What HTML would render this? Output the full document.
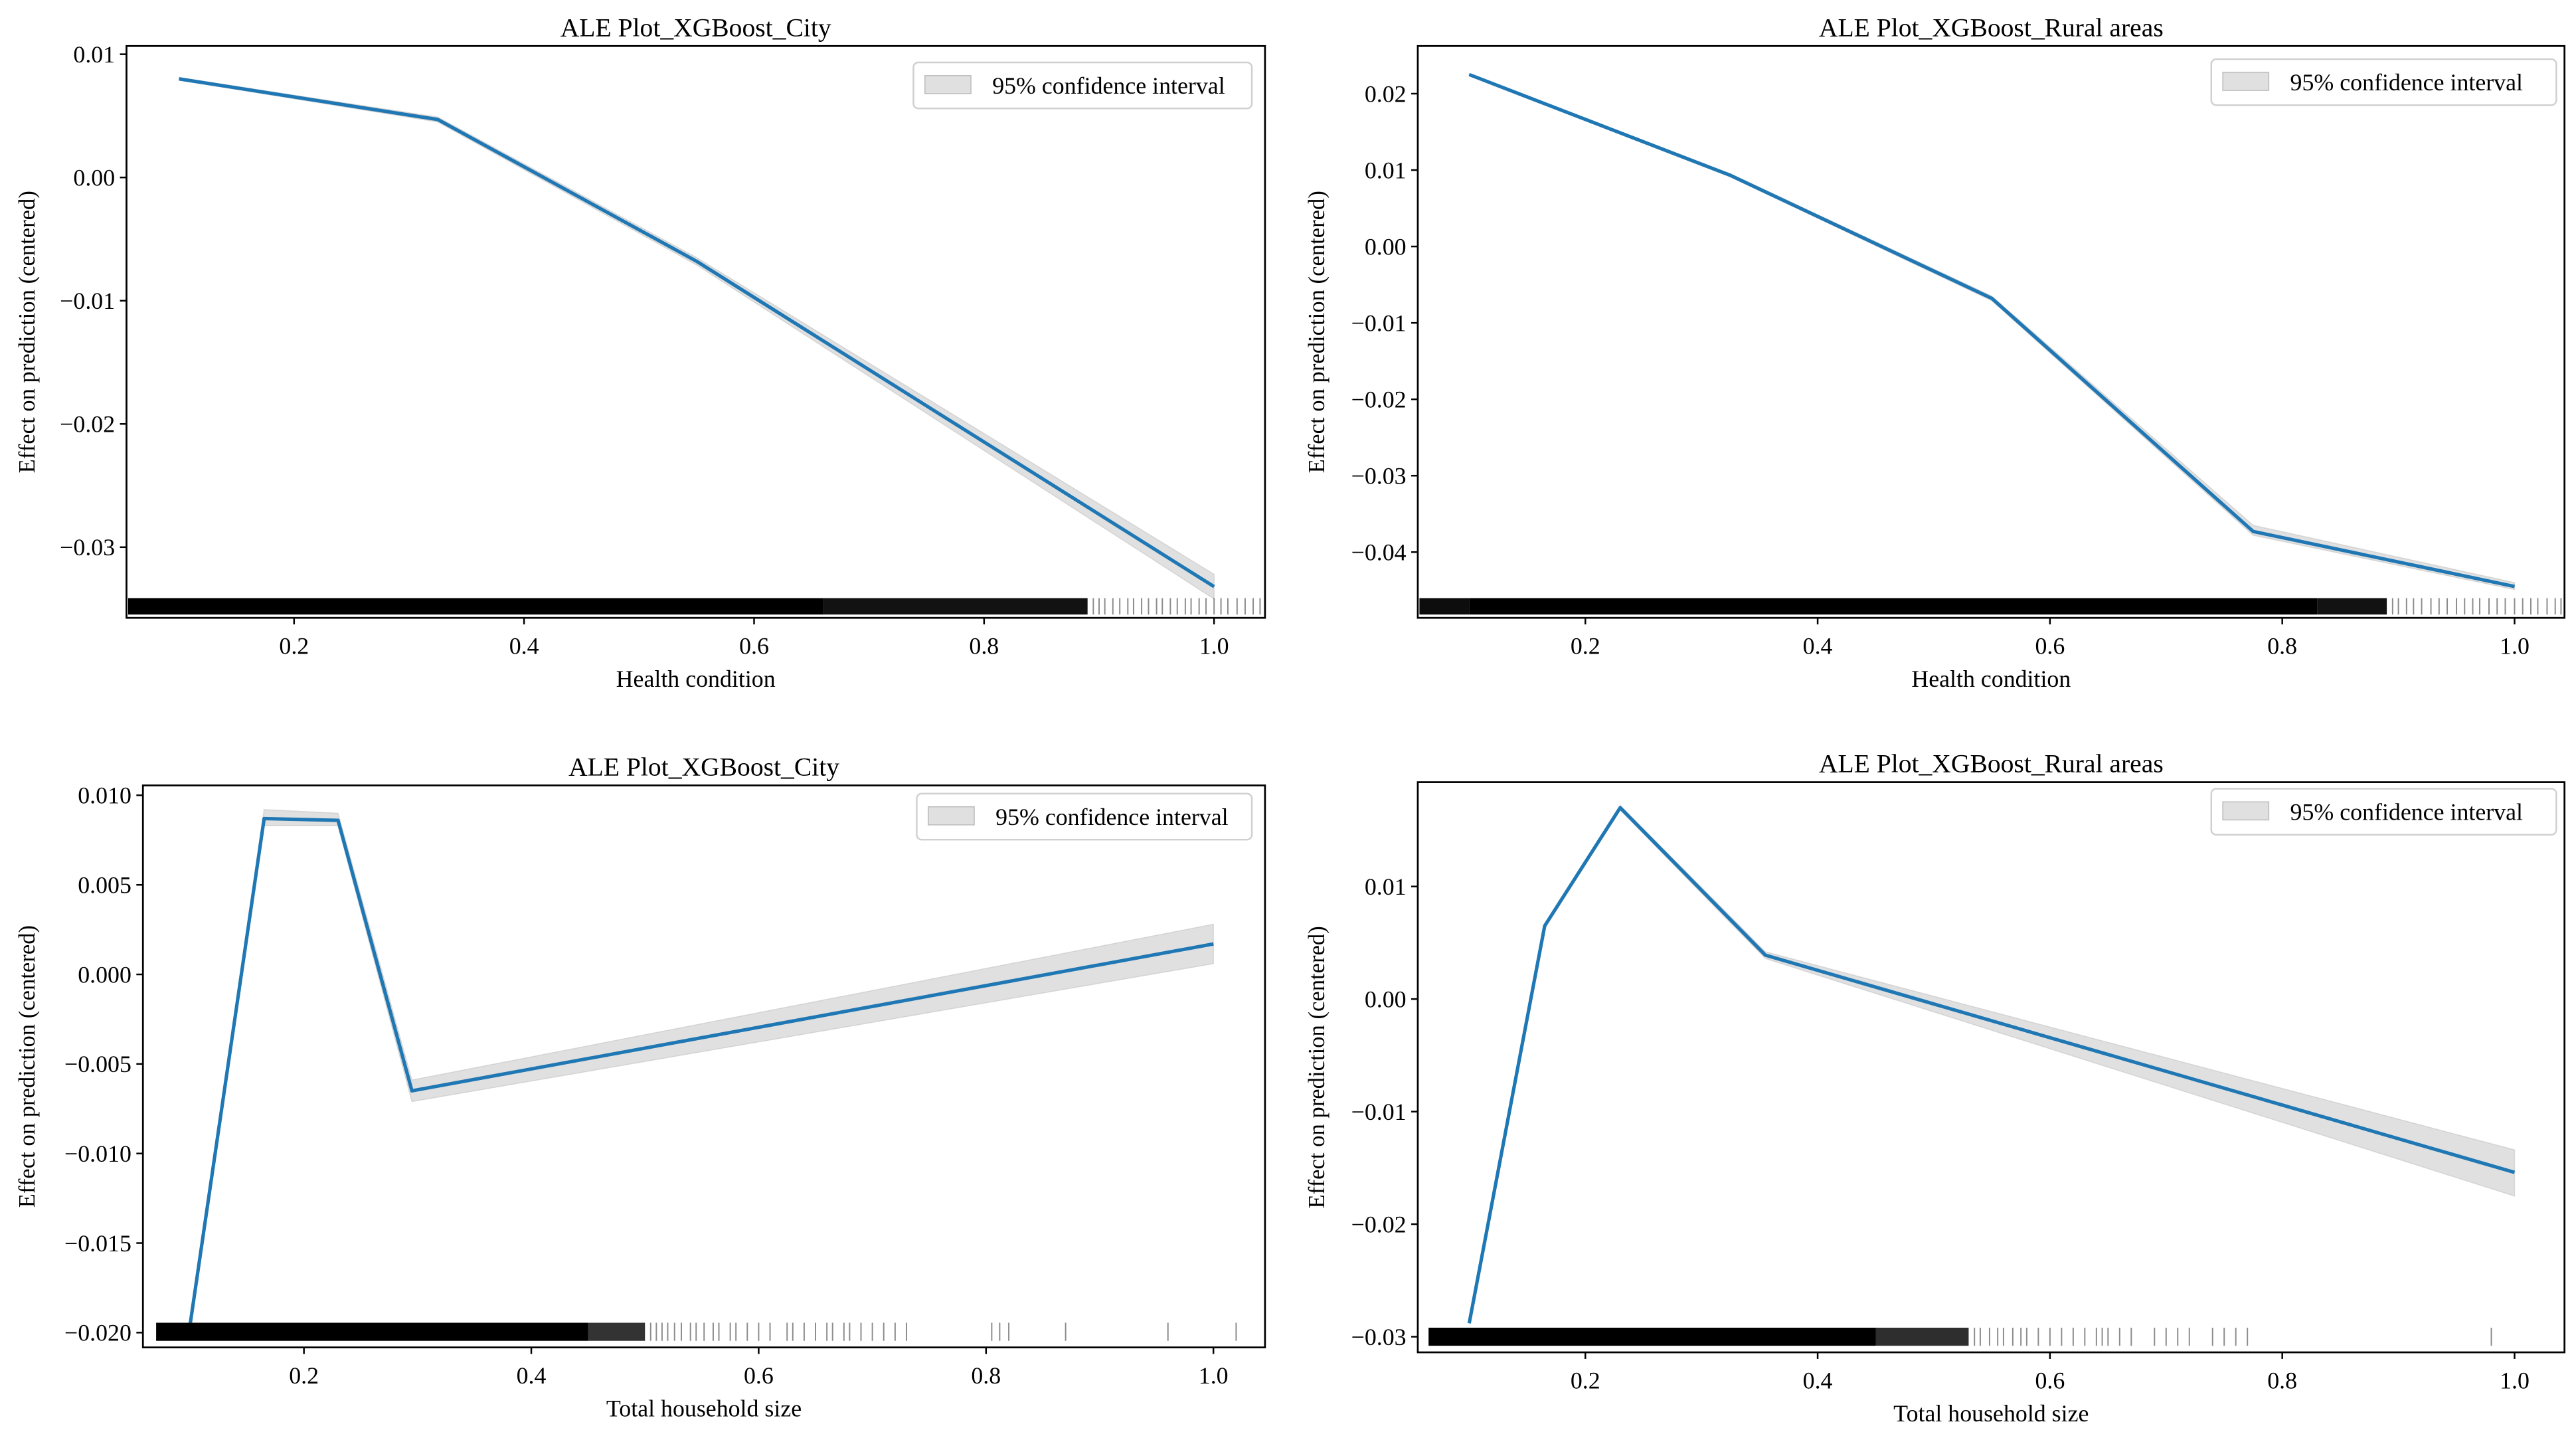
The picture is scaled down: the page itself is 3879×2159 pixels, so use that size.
<!DOCTYPE html>
<html><head><meta charset="utf-8"><style>
html,body{margin:0;padding:0;background:#fff;}
svg{display:block;}
text{font-family:"Liberation Serif",serif;fill:#000;}
</style></head><body>
<svg id="fig" width="3879" height="2159" viewBox="0 0 1568 872.7" preserveAspectRatio="none" xmlns="http://www.w3.org/2000/svg"></svg>
<script>
// Panel 1: City, Health condition
const p1X = [0.1, 0.325, 0.55, 1.0];
const p1Y = [0.008, 0.0047, -0.0068, -0.0332];
const p1Lo = [0.0079, 0.0045, -0.0071, -0.0342];
const p1Hi = [0.0081, 0.0049, -0.0065, -0.0322];
const p1YTicks = [0.01, 0.00, -0.01, -0.02, -0.03];
const p1YLabels = ["0.01", "0.00", "\u22120.01", "\u22120.02", "\u22120.03"];
const p1Rug = [[0.0, 0.66, 1], [0.66, 0.89, 0.93]];
const p1RugSparse = [0.895,0.9,0.905,0.912,0.918,0.925,0.93,0.937,0.943,0.95,0.955,0.962,0.968,0.975,0.98,0.987,0.993,1.0,1.006,1.012,1.02,1.027,1.034,1.04];
// Panel 2: Rural, Health condition
const p2X = [0.1, 0.325, 0.55, 0.775, 1.0];
const p2Y = [0.0225, 0.0093, -0.0068, -0.0373, -0.0445];
const p2Lo = [0.0224, 0.0091, -0.0071, -0.0378, -0.0449];
const p2Hi = [0.0226, 0.0095, -0.0065, -0.0365, -0.0440];
const p2YTicks = [0.02, 0.01, 0.00, -0.01, -0.02, -0.03, -0.04];
const p2YLabels = ["0.02", "0.01", "0.00", "\u22120.01", "\u22120.02", "\u22120.03", "\u22120.04"];
const p2Rug = [[0.0, 0.1, 0.95], [0.1, 0.83, 1], [0.83, 0.89, 0.93]];
const p2RugSparse = [0.895,0.9,0.907,0.913,0.92,0.928,0.935,0.942,0.95,0.957,0.964,0.97,0.978,0.985,0.992,1.0,1.007,1.014,1.02,1.028,1.035,1.04];
// Panel 3: City, Total household size
const p3X = [0.1, 0.165, 0.23, 0.295, 1.0];
const p3Y = [-0.0195, 0.0087, 0.0086, -0.0065, 0.0017];
const p3Lo = [-0.0196, 0.0083, 0.0083, -0.0071, 0.0006];
const p3Hi = [-0.0194, 0.0092, 0.0090, -0.0059, 0.0028];
const p3YTicks = [0.010, 0.005, 0.000, -0.005, -0.010, -0.015, -0.020];
const p3YLabels = ["0.010", "0.005", "0.000", "\u22120.005", "\u22120.010", "\u22120.015", "\u22120.020"];
const p3Rug = [[0.07, 0.45, 1], [0.45, 0.5, 0.8]];
const p3RugSparse = [0.505,0.51,0.515,0.52,0.526,0.532,0.54,0.545,0.552,0.56,0.565,0.575,0.58,0.59,0.6,0.61,0.625,0.63,0.64,0.65,0.66,0.665,0.675,0.68,0.69,0.7,0.71,0.72,0.73,0.805,0.812,0.82,0.87,0.96,1.02];
// Panel 4: Rural, Total household size
const p4X = [0.1, 0.165, 0.23, 0.355, 1.0];
const p4Y = [-0.0288, 0.0065, 0.0170, 0.0039, -0.0154];
const p4Lo = [-0.0289, 0.0063, 0.0168, 0.0036, -0.0175];
const p4Hi = [-0.0287, 0.0067, 0.0172, 0.0042, -0.0134];
const p4YTicks = [0.01, 0.00, -0.01, -0.02, -0.03];
const p4YLabels = ["0.01", "0.00", "\u22120.01", "\u22120.02", "\u22120.03"];
const p4Rug = [[0.065, 0.45, 1], [0.45, 0.53, 0.82]];
const p4RugSparse = [0.535,0.54,0.548,0.555,0.56,0.568,0.575,0.58,0.59,0.6,0.61,0.62,0.63,0.64,0.645,0.65,0.66,0.67,0.69,0.7,0.71,0.72,0.74,0.75,0.76,0.77,0.98];
const xTicks = [0.2, 0.4, 0.6, 0.8, 1.0];
const xTickLabels = ["0.2", "0.4", "0.6", "0.8", "1.0"];

const NS = "http://www.w3.org/2000/svg";
const svg = document.getElementById('fig');
function mk(tag, attrs, parent){const e=document.createElementNS(NS,tag);for(const k in attrs)e.setAttribute(k,attrs[k]);(parent||svg).appendChild(e);return e;}

function panel(cfg){
  const g = mk('g', {});
  
  
  const sx = v => cfg.x0px + (v - 0.2) * cfg.xScale;
  const sy = v => cfg.y0px - (v - cfg.y0v) * cfg.yScale;
  let d = '';
  cfg.xs.forEach((x,i)=>{ d += (i?'L':'M') + sx(x) + ',' + sy(cfg.hi[i]); });
  for (let i = cfg.xs.length-1; i>=0; i--) d += 'L' + sx(cfg.xs[i]) + ',' + sy(cfg.lo[i]);
  const band = mk('path', {d: d+'Z', fill:'#bbbbbb', 'fill-opacity':'0.45', stroke:'#bbbbbb','stroke-opacity':'0.5','stroke-width':'0.6'}, g);
  
  
  const pts = cfg.xs.map((x,i)=>sx(x)+','+sy(cfg.ys[i])).join(' ');
  const ln = mk('polyline', {points: pts, fill:'none', stroke:'#1f77b4', 'stroke-width':'2.1', 'stroke-linejoin':'round'}, g);
  
  
  const rg = mk('g', {}, g);
  
  
  cfg.rug.forEach(r=>{
    const a = Math.max(sx(r[0]), cfg.L+1), b = Math.min(sx(r[1]), cfg.R);
    mk('rect', {x:a, y:cfg.rugY, width:b-a, height:cfg.rugH, fill:'#000', 'fill-opacity':r[2]}, rg);
  });
  cfg.sparse.forEach(v=>{
    const xx = sx(v); if (xx<cfg.L||xx>cfg.R) return;
    mk('line', {x1:xx, x2:xx, y1:cfg.rugY, y2:cfg.rugY+cfg.rugH, stroke:'#000', 'stroke-opacity':'0.45', 'stroke-width':'0.8'}, rg);
  });
  const fr = mk('rect', {x:cfg.L, y:cfg.T, width:cfg.R-cfg.L, height:cfg.B-cfg.T, fill:'none', stroke:'#000', 'stroke-width':'1.1'}, g);
  
  
  cfg.yt.forEach((v,i)=>{
    const yy = sy(v);
    mk('line', {x1:cfg.L-4, x2:cfg.L, y1:yy, y2:yy, stroke:'#000','stroke-width':'1'}, g);
    const t = mk('text', {x:cfg.L-7, y:yy+5, 'text-anchor':'end', 'font-size':'14.5'}, g);
    t.textContent = cfg.yl[i];
    
    
  });
  xTicks.forEach((v,i)=>{
    const xx = sx(v);
    mk('line', {x1:xx, x2:xx, y1:cfg.B, y2:cfg.B+4, stroke:'#000','stroke-width':'1'}, g);
    const t = mk('text', {x:xx, y:cfg.B+22, 'text-anchor':'middle', 'font-size':'14.5'}, g);
    t.textContent = xTickLabels[i];
    
    
  });
  const ti = mk('text', {x:(cfg.L+cfg.R)/2, y:cfg.T-6, 'text-anchor':'middle', 'font-size':'16'}, g);
  ti.textContent = cfg.title;
  
  
  const xl = mk('text', {x:(cfg.L+cfg.R)/2, y:cfg.B+42, 'text-anchor':'middle', 'font-size':'14.5'}, g);
  xl.textContent = cfg.xlabel;
  
  
  const cy = (cfg.T+cfg.B)/2;
  const yl = mk('text', {x:cfg.ylx, y:cy, 'text-anchor':'middle', 'font-size':'14', transform:'rotate(-90 '+cfg.ylx+' '+cy+')'}, g);
  yl.textContent = 'Effect on prediction (centered)';
  
  
  const lg = mk('g', {}, g);
  
  
  mk('rect', {x:cfg.legX, y:cfg.legY, width:cfg.legW, height:28, rx:3, fill:'#fff', 'fill-opacity':'0.85', stroke:'#d0d0d0','stroke-width':'1'}, lg);
  mk('rect', {x:cfg.legX+7, y:cfg.legY+8, width:28, height:11, fill:'#bbbbbb','fill-opacity':'0.45', stroke:'#bbbbbb','stroke-width':'0.6'}, lg);
  const lt = mk('text', {x:cfg.legX+48, y:cfg.legY+19, 'font-size':'14.5'}, lg);
  lt.textContent = '95% confidence interval';
  
  
}

panel({name:'panel-city-health', L:77, R:770, T:28, B:376, x0px:179, xScale:700, y0v:0.00, y0px:108, yScale:7500,
  xs:p1X, ys:p1Y, lo:p1Lo, hi:p1Hi, yt:p1YTicks, yl:p1YLabels, rug:p1Rug, sparse:p1RugSparse, rugY:364, rugH:10,
  title:'ALE Plot_XGBoost_City', xlabel:'Health condition', ylx:21, legX:556, legY:38, legW:206});
panel({name:'panel-rural-health', L:863, R:1561, T:28, B:376, x0px:965, xScale:707, y0v:0.00, y0px:150, yScale:4650,
  xs:p2X, ys:p2Y, lo:p2Lo, hi:p2Hi, yt:p2YTicks, yl:p2YLabels, rug:p2Rug, sparse:p2RugSparse, rugY:364, rugH:10,
  title:'ALE Plot_XGBoost_Rural areas', xlabel:'Health condition', ylx:806, legX:1346, legY:36, legW:210});
panel({name:'panel-city-household', L:87, R:770, T:478, B:820, x0px:185, xScale:692, y0v:0.000, y0px:593, yScale:10900,
  xs:p3X, ys:p3Y, lo:p3Lo, hi:p3Hi, yt:p3YTicks, yl:p3YLabels, rug:p3Rug, sparse:p3RugSparse, rugY:805, rugH:11,
  title:'ALE Plot_XGBoost_City', xlabel:'Total household size', ylx:21, legX:558, legY:483, legW:204});
panel({name:'panel-rural-household', L:863, R:1561, T:476, B:823, x0px:965, xScale:707, y0v:0.00, y0px:608, yScale:6850,
  xs:p4X, ys:p4Y, lo:p4Lo, hi:p4Hi, yt:p4YTicks, yl:p4YLabels, rug:p4Rug, sparse:p4RugSparse, rugY:808, rugH:11,
  title:'ALE Plot_XGBoost_Rural areas', xlabel:'Total household size', ylx:806, legX:1346, legY:480, legW:210});
</script>
</body></html>
